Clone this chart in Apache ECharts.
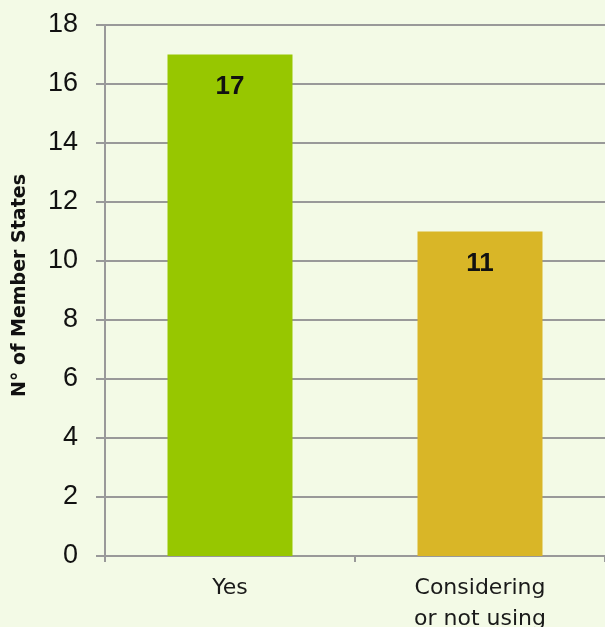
<!DOCTYPE html>
<html><head><meta charset="utf-8">
<script src="https://cdn.jsdelivr.net/npm/echarts@6/dist/echarts.min.js"></script>
<style>html,body{margin:0;padding:0;background:#F3FAE6;}#c{width:605px;height:627px;}</style>
</head><body><div id="c"></div>
<script>
var categories = ['Yes', 'Considering\nor not using'];
var values = [17, 11];
var barColors = ['#97C700', '#D9B627'];
var yTicks = [0, 2, 4, 6, 8, 10, 12, 14, 16, 18];

var chart = echarts.init(document.getElementById('c'));
chart.setOption({
  backgroundColor: '#F3FAE6',
  animation: false,
  grid: {left: 105, right: 0, top: 25, bottom: 71, containLabel: false, outerBoundsMode: 'none'},
  xAxis: {
    type: 'category', data: categories,
    axisLine: {lineStyle: {color: '#999', width: 2}},
    axisTick: {show: true, length: 6, lineStyle: {color: '#999', width: 2}},
    axisLabel: {color: '#1a1a1a', fontSize: 22, fontFamily: '"DejaVu Sans", sans-serif', margin: 17, lineHeight: 31}
  },
  yAxis: {
    type: 'value', min: 0, max: 18, interval: 2,
    name: 'N° of Member States', nameLocation: 'middle', nameGap: 75,
    nameTextStyle: {fontSize: 19, fontWeight: 'bold', color: '#111', fontFamily: '"DejaVu Sans", sans-serif', padding: [0, 0, 0, 10]},
    axisLine: {show: true, lineStyle: {color: '#999', width: 2}},
    axisTick: {show: true, length: 9, lineStyle: {color: '#999', width: 2}},
    splitLine: {lineStyle: {color: '#999', width: 2}},
    axisLabel: {color: '#111', fontSize: 27, fontFamily: '"Liberation Sans", Arial, sans-serif', margin: 27,
      formatter: function(v){ return yTicks.indexOf(v) >= 0 ? String(v) : ''; }}
  },
  series: [{
    type: 'bar', barWidth: '50%',
    data: values.map(function(v, i){ return {value: v, itemStyle: {color: barColors[i]}}; }),
    label: {show: true, position: 'insideTop', distance: 19, fontSize: 26, fontWeight: 'bold', color: '#111', fontFamily: '"Liberation Sans", Arial, sans-serif'}
  }]
});
</script></body></html>
